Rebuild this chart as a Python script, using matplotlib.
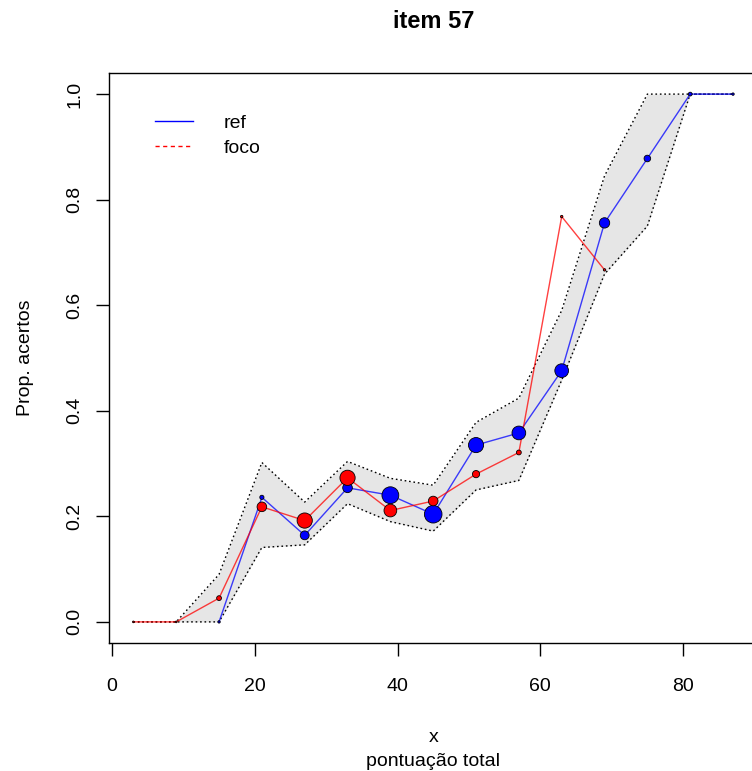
import numpy as np
import matplotlib
matplotlib.use("Agg")
import matplotlib.pyplot as plt
from matplotlib.lines import Line2D

plt.rcParams["font.family"] = ["Liberation Sans", "DejaVu Sans"]

nan = np.nan

# total score groups (bin centres)
score = [3, 9, 15, 21, 27, 33, 39, 45, 51, 57, 63, 69, 75, 81, 87]

# proportion correct for the reference group and its group sizes
ref_prop = [nan, nan, 0.0, 0.236, 0.164, 0.254, 0.240, 0.204, 0.335, 0.358,
            0.476, 0.756, 0.878, 1.0, 1.0]
ref_n = [0, 0, 2, 6, 27, 32, 98, 107, 79, 65, 65, 37, 15, 5, 2]

# proportion correct for the focal group and its group sizes
foco_prop = [0.0, 0.0, 0.045, 0.218, 0.192, 0.273, 0.211, 0.229, 0.280, 0.321,
             0.768, 0.667, nan, nan, nan]
foco_n = [1, 1, 8, 32, 80, 80, 56, 32, 18, 8, 2, 2, 0, 0, 0]

# confidence band around the reference curve
band_lower = [0.0, 0.0, 0.0, 0.141, 0.146, 0.224, 0.190, 0.172, 0.250, 0.268,
              0.458, 0.659, 0.750, 1.0, 1.0]
band_upper = [0.0, 0.0, 0.090, 0.302, 0.227, 0.304, 0.272, 0.259, 0.378, 0.424,
              0.590, 0.845, 1.0, 1.0, 1.0]

xticks = [0, 20, 40, 60, 80]
yticks = [0.0, 0.2, 0.4, 0.6, 0.8, 1.0]

W, H = 752, 771
fig = plt.figure(figsize=(W / 100, H / 100), dpi=100)

# plot region in pixels (left, right, top, bottom)
L, R, T, B = 109.4, 757.0, 73.0, 643.0
ax = fig.add_axes([L / W, 1 - B / H, (R - L) / W, (B - T) / H])
ax.set_xlim(-0.36, 90.36)
ax.set_ylim(-0.04, 1.04)

dots = (0, (1.2, 2.0))
ax.fill_between(score, band_lower, band_upper, color="#E6E6E6", lw=0, zorder=1)
ax.plot(score, band_lower, color="black", lw=1.0, linestyle=dots, zorder=2)
ax.plot(score, band_upper, color="black", lw=1.0, linestyle=dots, zorder=2)

ax.plot(score, ref_prop, color="blue", lw=1.0, alpha=0.75, zorder=3)
ax.plot(score, foco_prop, color="red", lw=1.0, alpha=0.75, zorder=3)

# marker area grows with group size
area = 1.5
ax.scatter(score, ref_prop, s=[area * n for n in ref_n], c="blue",
           edgecolors="black", linewidths=0.6, zorder=4)
ax.scatter(score, foco_prop, s=[area * n for n in foco_n], c="red",
           edgecolors="black", linewidths=0.6, zorder=5)

ax.set_xticks(xticks)
ax.set_xticklabels([str(v) for v in xticks])
ax.set_yticks(yticks)
ax.set_yticklabels([f"{v:.1f}" for v in yticks], rotation=90, va="center")
ax.tick_params(direction="out", length=9.5, width=1.0, color="black",
               labelsize=14)
ax.tick_params(axis="x", pad=16)
ax.tick_params(axis="y", pad=9)
for sp in ax.spines.values():
    sp.set_linewidth(1.0)
    sp.set_color("black")

handles = [Line2D([], [], color="blue", lw=1.0),
           Line2D([], [], color="red", lw=1.0, linestyle=(0, (3, 2.5)))]
ax.legend(handles, ["ref", "foco"], loc="upper left",
          bbox_to_anchor=(0.07, 0.927), frameon=False, fontsize=14,
          handlelength=1.95, handletextpad=1.6, labelspacing=0.35,
          borderpad=0, borderaxespad=0)

cx = (L + R) / 2 / W
fig.text(cx, 1 - 22 / H, "item 57", ha="center", va="center",
         fontsize=17, fontweight="bold")
fig.text(cx, 1 - 738 / H, "x", ha="center", va="center", fontsize=14)
fig.text(cx, 1 - 762 / H, "pontuação total", ha="center", va="center",
         fontsize=14)
fig.text(25 / W, 1 - (T + B) / 2 / H, "Prop. acertos", ha="center",
         va="center", rotation=90, fontsize=14)

fig.savefig("out.png", dpi=100)
